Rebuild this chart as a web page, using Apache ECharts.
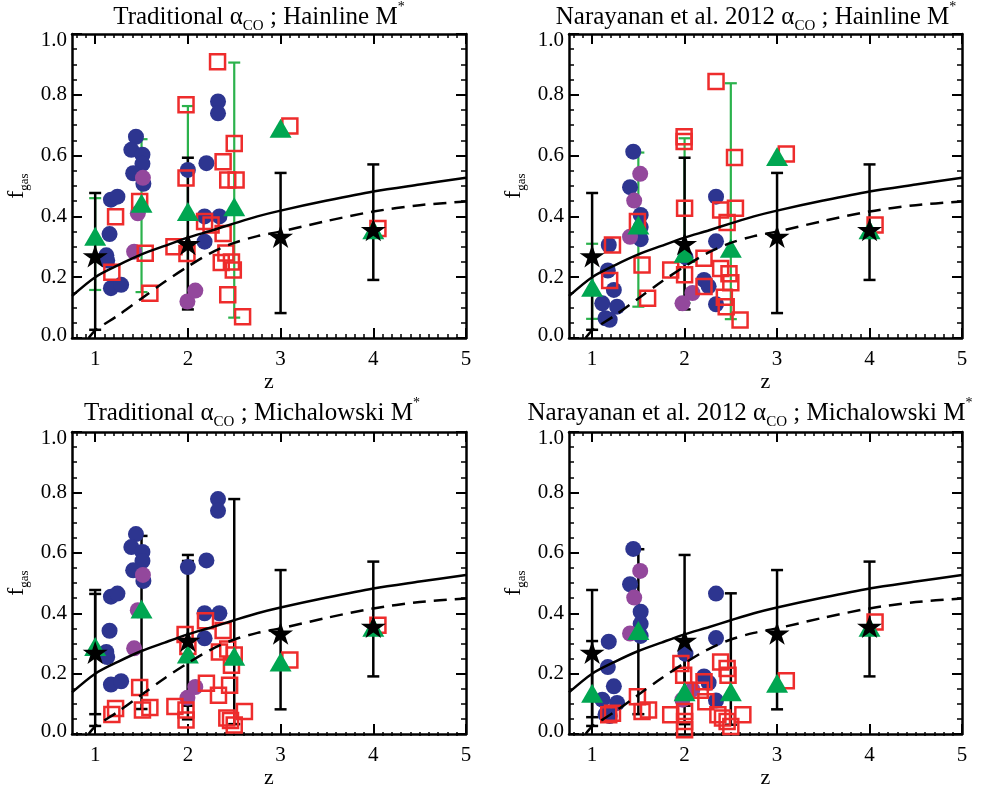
<!DOCTYPE html>
<html><head><meta charset="utf-8">
<script src="https://cdn.jsdelivr.net/npm/echarts@6/dist/echarts.min.js"></script>
<style>html,body{margin:0;padding:0;background:#fff}#c{width:982px;height:790px}</style>
</head><body><div id="c"></div>
<script>
// ---------------- DATA ----------------
const xTickLabels = [1, 2, 3, 4, 5];
const yTickLabels = ['0.0', '0.2', '0.4', '0.6', '0.8', '1.0'];

// Black stars (same in all panels)
const starZ  = [1, 2, 3, 4];
const starF  = [0.27, 0.31, 0.334, 0.356];
const starLo = [0.027, 0.094, 0.082, 0.191];
const starHi = [0.477, 0.593, 0.543, 0.571];

// Model curves
const solidZ = [0.75, 1, 1.25, 1.5, 1.75, 2, 2.25, 2.5, 2.75, 3, 3.5, 4, 4.5, 5];
const solidF = [0.138, 0.20, 0.24, 0.275, 0.303, 0.33, 0.353, 0.377, 0.40, 0.419, 0.452, 0.482, 0.505, 0.527];
const dashZ  = [0.93, 1, 1.25, 1.5, 1.75, 2, 2.25, 2.5, 2.75, 3, 3.5, 4, 4.5, 5];
const dashF  = [0.0, 0.025, 0.075, 0.13, 0.185, 0.235, 0.28, 0.313, 0.335, 0.35, 0.385, 0.416, 0.437, 0.449];

// Blue / purple circles (Traditional alpha_CO)
const blueTrad = [[1.17,0.455],[1.24,0.465],[1.155,0.342],[1.12,0.272],[1.13,0.255],[1.17,0.164],[1.28,0.175],
  [1.44,0.662],[1.39,0.619],[1.51,0.603],[1.51,0.573],[1.41,0.542],[1.52,0.507],
  [2.0,0.553],[2.20,0.575],[2.18,0.40],[2.18,0.317],[2.325,0.778],[2.325,0.739],[2.34,0.40]];
const purpleTrad = [[1.515,0.527],[1.46,0.41],[1.42,0.284],[1.995,0.12],[2.08,0.156]];

// Blue / purple circles (Narayanan alpha_CO)
const blueNara = [[1.18,0.306],[1.17,0.222],[1.235,0.158],[1.11,0.114],[1.27,0.103],[1.145,0.065],[1.19,0.06],
  [1.445,0.613],[1.41,0.496],[1.525,0.405],[1.525,0.365],[1.525,0.325],
  [2.01,0.266],[2.21,0.191],[2.26,0.17],[2.34,0.318],[2.34,0.465],[2.34,0.111]];
const purpleNara = [[1.52,0.54],[1.455,0.452],[1.41,0.333],[1.977,0.114],[2.085,0.148]];

// Red open squares per panel
const redTH = [[1.22,0.399],[1.18,0.216],[1.48,0.449],[1.54,0.279],[1.59,0.147],
  [1.98,0.767],[1.98,0.526],[1.85,0.30],[1.99,0.278],
  [2.18,0.383],[2.25,0.372],[2.38,0.344],[2.38,0.58],[2.50,0.64],[2.43,0.52],[2.52,0.52],
  [2.41,0.28],[2.36,0.248],[2.47,0.25],[2.49,0.224],[2.43,0.142],[2.59,0.07],[2.32,0.909],
  [3.1,0.697],[4.05,0.36]];
const redNH = [[1.22,0.306],[1.19,0.189],[1.49,0.383],[1.54,0.24],[1.6,0.131],
  [1.995,0.662],[1.995,0.646],[2.0,0.427],[1.85,0.224],[2.0,0.208],
  [2.21,0.262],[2.21,0.169],[2.39,0.421],[2.55,0.427],[2.46,0.38],[2.54,0.594],[2.34,0.844],
  [2.39,0.229],[2.48,0.211],[2.50,0.182],[2.43,0.134],[2.45,0.103],[2.6,0.059],
  [3.1,0.605],[4.06,0.372]];
const redTM = [[1.22,0.085],[1.18,0.065],[1.48,0.154],[1.51,0.08],[1.59,0.088],[1.86,0.091],
  [1.97,0.33],[2.0,0.29],[1.98,0.08],[1.98,0.047],
  [2.19,0.375],[2.38,0.343],[2.34,0.272],[2.43,0.282],[2.5,0.262],[2.47,0.228],
  [2.20,0.168],[2.33,0.129],[2.45,0.162],[2.42,0.053],[2.46,0.045],[2.5,0.03],[2.61,0.075],
  [3.1,0.245],[4.05,0.36]];
const redNM = [[1.18,0.064],[1.22,0.069],[1.49,0.124],[1.54,0.075],[1.61,0.08],[1.85,0.064],
  [1.96,0.234],[1.99,0.195],[2.0,0.075],[2.0,0.042],[2.0,0.014],
  [2.21,0.173],[2.17,0.145],[2.23,0.107],[2.39,0.239],[2.46,0.217],[2.47,0.195],
  [2.36,0.064],[2.41,0.053],[2.46,0.042],[2.5,0.025],[2.63,0.064],
  [3.1,0.177],[4.06,0.371]];

// Green triangles per panel (error bars only for first four)
const triZ  = [1, 1.5, 2, 2.5, 3, 4];
const triTH = [0.335, 0.443, 0.416, 0.432, 0.69, 0.356];
const triTHlo = [0.158, 0.151, 0.114, 0.067];
const triTHhi = [0.46, 0.654, 0.763, 0.906];
const triNH = [0.167, 0.372, 0.279, 0.295, 0.597, 0.356];
const triNHlo = [0.063, 0.103, 0.115, 0.062];
const triNHhi = [0.31, 0.61, 0.657, 0.838];
const triTM = [0.29, 0.414, 0.265, 0.258, 0.239, 0.354];
const triTMlo = [0.066, 0.083, 0.049, 0.033];
const triTMhi = [0.464, 0.656, 0.573, 0.778];
const triNM = [0.135, 0.343, 0.14, 0.14, 0.168, 0.354];
const triNMlo = [0.056, 0.066, 0.033, 0.031];
const triNMhi = [0.308, 0.612, 0.261, 0.466];

const titleParts = [
  ['Traditional α', 'CO', ' ; Hainline M', '*'],
  ['Narayanan et al. 2012 α', 'CO', ' ; Hainline M', '*'],
  ['Traditional α', 'CO', ' ; Michalowski M', '*'],
  ['Narayanan et al. 2012 α', 'CO', ' ; Michalowski M', '*']
];

// ---------------- LAYOUT / STYLE ----------------
const FF = '"Liberation Serif","Times New Roman",serif';
const rects = [
  {left: 72, top: 34, width: 394, height: 304},
  {left: 569, top: 34, width: 393, height: 304},
  {left: 72, top: 432, width: 394, height: 304},
  {left: 569, top: 432, width: 393, height: 304}
];
const titlePos = [[259, 17], [756, 17], [252, 413], [750, 413]];
const BLUE = '#2D3590', PURPLE = '#93489C', RED = '#EE2C2C', GREEN = '#00A651', GREENBAR = '#2BB24C';

const panels = [
  {blue: blueTrad, purple: purpleTrad, red: redTH, tri: triTH, lo: triTHlo, hi: triTHhi, errColor: GREENBAR},
  {blue: blueNara, purple: purpleNara, red: redNH, tri: triNH, lo: triNHlo, hi: triNHhi, errColor: GREENBAR},
  {blue: blueTrad, purple: purpleTrad, red: redTM, tri: triTM, lo: triTMlo, hi: triTMhi, errColor: '#000'},
  {blue: blueNara, purple: purpleNara, red: redNM, tri: triNM, lo: triNMlo, hi: triNMhi, errColor: '#000'}
];

const xMinor = [];
for (let k = 8; k <= 49; k++) if (k % 10) xMinor.push(k / 10);

function errRender(color, lw, cap) {
  return function (params, api) {
    const x = api.value(0), lo = api.value(1), hi = api.value(2);
    const a = api.coord([x, lo]), b = api.coord([x, hi]);
    const st = {stroke: color, lineWidth: lw};
    return {type: 'group', children: [
      {type: 'line', shape: {x1: a[0], y1: a[1], x2: b[0], y2: b[1]}, style: st},
      {type: 'line', shape: {x1: a[0] - cap, y1: a[1], x2: a[0] + cap, y2: a[1]}, style: st},
      {type: 'line', shape: {x1: b[0] - cap, y1: b[1], x2: b[0] + cap, y2: b[1]}, style: st}
    ]};
  };
}

const grid = [], xAxis = [], yAxis = [], series = [], graphic = [];
const axisLine = {show: true, onZero: false, lineStyle: {color: '#000', width: 2.5}};
const STAR = 'path://M50,0L61.2,34.5L97.6,34.5L68.2,55.9L79.4,90.5L50,69.1L20.6,90.5L31.8,55.9L2.4,34.5L38.8,34.5Z';

for (let i = 0; i < 4; i++) grid.push(Object.assign({containLabel: false}, rects[i]));
for (let i = 0; i < 4; i++) grid.push(Object.assign({containLabel: false}, rects[i]));

for (let i = 0; i < 4; i++) {
  // x axes: main bottom, main top, minor bottom, minor top
  xAxis.push({type: 'value', gridIndex: i, position: 'bottom', min: 0.75, max: 5,
    axisLine: axisLine, splitLine: {show: false},
    axisTick: {show: true, inside: true, length: 10, customValues: xTickLabels, lineStyle: {color: '#000', width: 2}},
    axisLabel: {show: true, customValues: xTickLabels, margin: 11, fontFamily: FF, fontSize: 21, color: '#000',
      formatter: v => String(v)},
    name: 'z', nameLocation: 'middle', nameGap: 28,
    nameTextStyle: {fontFamily: FF, fontSize: 22, color: '#000'}});
  xAxis.push({type: 'value', gridIndex: i, position: 'top', min: 0.75, max: 5,
    axisLine: axisLine, splitLine: {show: false},
    axisTick: {show: true, inside: true, length: 10, customValues: xTickLabels, lineStyle: {color: '#000', width: 2}},
    axisLabel: {show: false}});
  xAxis.push({type: 'value', gridIndex: 4 + i, position: 'bottom', min: 0.75, max: 5,
    axisLine: {show: false}, splitLine: {show: false},
    axisTick: {show: true, inside: true, length: 4, customValues: xMinor, lineStyle: {color: '#000', width: 1.5}},
    axisLabel: {show: false}});
  xAxis.push({type: 'value', gridIndex: 4 + i, position: 'top', min: 0.75, max: 5,
    axisLine: {show: false}, splitLine: {show: false},
    axisTick: {show: true, inside: true, length: 4, customValues: xMinor, lineStyle: {color: '#000', width: 1.5}},
    axisLabel: {show: false}});

  // y axes: left, right, hidden
  yAxis.push({type: 'value', gridIndex: i, position: 'left', min: 0, max: 1, interval: 0.2,
    axisLine: axisLine, splitLine: {show: false},
    axisTick: {show: true, inside: true, length: 10, lineStyle: {color: '#000', width: 2}},
    minorTick: {show: true, splitNumber: 4, length: 5, lineStyle: {color: '#000', width: 1.5}},
    axisLabel: {show: true, margin: 5, fontFamily: FF, fontSize: 21, color: '#000',
      formatter: function (v) {
        const k = Math.round(v * 5);
        const s = yTickLabels[k];
        if (k === 0) return '{b|' + s + '}';
        if (k === 5) return '{t|' + s + '}';
        return s;
      },
      rich: {b: {fontFamily: FF, fontSize: 21, color: '#000', padding: [0, 0, 6, 0]},
             t: {fontFamily: FF, fontSize: 21, color: '#000', padding: [13, 0, 0, 0]}}},
    name: '{f|f}{g|gas}', nameLocation: 'middle', nameGap: 41,
    nameTextStyle: {rich: {
      f: {fontFamily: FF, fontSize: 24, color: '#000', lineHeight: 28, verticalAlign: 'middle'},
      g: {fontFamily: FF, fontSize: 13, color: '#000', lineHeight: 14, verticalAlign: 'bottom'}}}});
  yAxis.push({type: 'value', gridIndex: i, position: 'right', min: 0, max: 1, interval: 0.2,
    axisLine: axisLine, splitLine: {show: false},
    axisTick: {show: true, inside: true, length: 10, lineStyle: {color: '#000', width: 2}},
    minorTick: {show: true, splitNumber: 4, length: 5, lineStyle: {color: '#000', width: 1.5}},
    axisLabel: {show: false}});
  yAxis.push({type: 'value', gridIndex: 4 + i, show: false, min: 0, max: 1});

  const xi = 4 * i, yi = 3 * i;
  const P = panels[i];
  const common = {xAxisIndex: xi, yAxisIndex: yi, animation: false};
  series.push(Object.assign({type: 'scatter', data: P.blue, symbol: 'circle', symbolSize: 16,
    itemStyle: {color: BLUE, opacity: 1}}, common));
  series.push(Object.assign({type: 'scatter', data: P.purple, symbol: 'circle', symbolSize: 16,
    itemStyle: {color: PURPLE, opacity: 1}}, common));
  series.push(Object.assign({type: 'scatter', data: P.red, symbol: 'rect', symbolSize: 15,
    itemStyle: {color: 'rgba(0,0,0,0)', borderColor: RED, borderWidth: 2.5, opacity: 1}}, common));
  series.push(Object.assign({type: 'line', data: dashZ.map((z, k) => [z, dashF[k]]), showSymbol: false,
    smooth: 0.3, lineStyle: {color: '#000', width: 2.5, type: [13, 8]}}, common));
  series.push(Object.assign({type: 'line', data: solidZ.map((z, k) => [z, solidF[k]]), showSymbol: false,
    smooth: 0.3, lineStyle: {color: '#000', width: 2.5}}, common));
  series.push(Object.assign({type: 'custom', renderItem: errRender(P.errColor, P.errColor === '#000' ? 2.5 : 2.2, 6),
    data: P.lo.map((lo, k) => [triZ[k], lo, P.hi[k]]), encode: {x: 0, y: [1, 2]}}, common));
  series.push(Object.assign({type: 'scatter', data: triZ.map((z, k) => [z, P.tri[k]]), symbol: 'triangle',
    symbolSize: [22, 19], itemStyle: {color: GREEN, opacity: 1}}, common));
  series.push(Object.assign({type: 'custom', renderItem: errRender('#000', 2.5, 6),
    data: starZ.map((z, k) => [z, starLo[k], starHi[k]]), encode: {x: 0, y: [1, 2]}}, common));
  series.push(Object.assign({type: 'scatter', data: starZ.map((z, k) => [z, starF[k]]), symbol: STAR,
    symbolSize: [25, 23], itemStyle: {color: '#000', opacity: 1}}, common));

  const tp = titleParts[i];
  graphic.push({type: 'text', x: titlePos[i][0], y: titlePos[i][1], z: 10,
    style: {text: '{m|' + tp[0] + '}{s|' + tp[1] + '}{m|' + tp[2] + '}{p|' + tp[3] + '}',
      align: 'center', verticalAlign: 'middle', fill: '#000',
      rich: {
        m: {fontFamily: FF, fontSize: 25, lineHeight: 34, verticalAlign: 'middle', fill: '#000'},
        s: {fontFamily: FF, fontSize: 15, lineHeight: 20, verticalAlign: 'bottom', fill: '#000'},
        p: {fontFamily: FF, fontSize: 14, lineHeight: 20, verticalAlign: 'top', fill: '#000'}
      }}});
}

const chart = echarts.init(document.getElementById('c'), null, {renderer: 'canvas'});
chart.setOption({animation: false, backgroundColor: '#fff', grid, xAxis, yAxis, series, graphic});
</script></body></html>
